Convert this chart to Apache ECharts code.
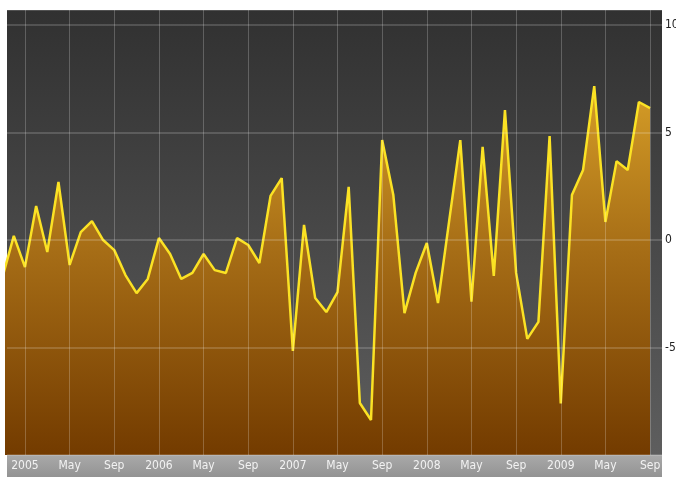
<!DOCTYPE html>
<html lang="en">
<head>
    <meta charset="UTF-8">
    <title>Monthly change</title>
    <script src="https://cdn.jsdelivr.net/npm/echarts@6/dist/echarts.min.js"></script>
    <style>
        html, body { margin: 0; padding: 0; background: #fff; }
        #main { width: 676px; height: 477px; }
    </style>
</head>
<body>
<div id="main"></div>
<script>
    // months from Nov 2004 to Sep 2009
    let months = [
        '2004-11', '2004-12',
        '2005-01', '2005-02', '2005-03', '2005-04', '2005-05', '2005-06', '2005-07', '2005-08', '2005-09', '2005-10', '2005-11', '2005-12',
        '2006-01', '2006-02', '2006-03', '2006-04', '2006-05', '2006-06', '2006-07', '2006-08', '2006-09', '2006-10', '2006-11', '2006-12',
        '2007-01', '2007-02', '2007-03', '2007-04', '2007-05', '2007-06', '2007-07', '2007-08', '2007-09', '2007-10', '2007-11', '2007-12',
        '2008-01', '2008-02', '2008-03', '2008-04', '2008-05', '2008-06', '2008-07', '2008-08', '2008-09', '2008-10', '2008-11', '2008-12',
        '2009-01', '2009-02', '2009-03', '2009-04', '2009-05', '2009-06', '2009-07', '2009-08', '2009-09'
    ];
    let values = [
        -1.7, 0.19,
        -1.26, 1.58, -0.56, 2.70, -1.16, 0.37, 0.88, 0.0, -0.47, -1.63, -2.47, -1.81,
        0.09, -0.65, -1.81, -1.53, -0.65, -1.40, -1.53, 0.09, -0.23, -1.07, 2.05, 2.88,
        -5.16, 0.70, -2.70, -3.35, -2.42, 2.47, -7.58, -8.37, 4.65, 2.09, -3.40, -1.53,
        -0.14, -2.93, 0.88, 4.65, -2.87, 4.33, -1.67, 6.05, -1.53, -4.60, -3.81, 4.84,
        -7.60, 2.09, 3.26, 7.16, 0.84, 3.67, 3.26, 6.42, 6.14
    ];
    // x tick positions (months since Jan 2005) and their labels
    let xTickMonths = [0, 4, 8, 12, 16, 20, 24, 28, 32, 36, 40, 44, 48, 52, 56];
    let xTickLabels = ['2005', 'May', 'Sep', '2006', 'May', 'Sep', '2007', 'May', 'Sep', '2008', 'May', 'Sep', '2009', 'May', 'Sep'];
    let yTicks = [-5, 0, 5, 10];

    function monthIndex(s) {
        let p = s.split('-');
        return (parseInt(p[0], 10) - 2005) * 12 + parseInt(p[1], 10) - 1;
    }

    let seriesData = months.map(function(m, i) {
        return [monthIndex(m), values[i]];
    });

    let labelFont = "'DejaVu Sans Condensed', 'Liberation Sans Narrow', 'DejaVu Sans', sans-serif";

    let myChart = echarts.init(document.getElementById('main'), null, { renderer: 'canvas' });
    let option = {
        animation: false,
        backgroundColor: '#ffffff',
        grid: {
            left: 7,
            right: 14,
            top: 10,
            bottom: 22,
            outerBoundsMode: 'none',
            containLabel: false,
            show: true,
            borderWidth: 0,
            backgroundColor: new echarts.graphic.LinearGradient(0, 0, 0, 1, [
                { offset: 0, color: '#313131' },
                { offset: 1, color: '#5e5e5e' }
            ])
        },
        // grey band behind the month labels
        graphic: [{
            type: 'rect',
            left: 7,
            top: 455,
            z: -1,
            shape: { width: 655, height: 22 },
            style: {
                fill: new echarts.graphic.LinearGradient(0, 0, 0, 1, [
                    { offset: 0, color: '#a9a9a9' },
                    { offset: 1, color: '#939393' }
                ])
            }
        }],
        xAxis: {
            type: 'value',
            min: -1.61,
            max: 57.07,
            z: 3,
            axisLine: { show: false },
            axisTick: { show: false, customValues: xTickMonths },
            splitLine: {
                show: true,
                lineStyle: { color: 'rgba(255,255,255,0.22)', width: 1 }
            },
            axisLabel: {
                customValues: xTickMonths,
                margin: 5,
                color: '#f2f2f2',
                fontSize: 12,
                fontFamily: labelFont,
                hideOverlap: false,
                formatter: function(v) {
                    let i = xTickMonths.indexOf(Math.round(v));
                    return i >= 0 ? xTickLabels[i] : '';
                }
            }
        },
        yAxis: {
            type: 'value',
            position: 'right',
            min: -10,
            max: 10.7,
            interval: 5,
            z: 3,
            axisLine: { show: false },
            axisTick: { show: false },
            splitLine: {
                show: true,
                lineStyle: { color: 'rgba(255,255,255,0.16)', width: 2 }
            },
            axisLabel: {
                margin: 3,
                color: '#222',
                fontSize: 12,
                fontFamily: labelFont,
                formatter: function(v) {
                    return yTicks.indexOf(v) >= 0 ? String(v) : '';
                }
            }
        },
        series: [{
            type: 'line',
            data: seriesData,
            showSymbol: false,
            clip: true,
            z: 2,
            lineStyle: { color: '#fbe224', width: 2.5 },
            areaStyle: {
                origin: 'start',
                opacity: 1,
                color: new echarts.graphic.LinearGradient(0, 0, 0, 1, [
                    { offset: 0, color: '#d59d27' },
                    { offset: 0.45, color: '#a66d16' },
                    { offset: 1, color: '#733b00' }
                ])
            }
        }]
    };

    myChart.setOption(option);
</script>
</body>
</html>
